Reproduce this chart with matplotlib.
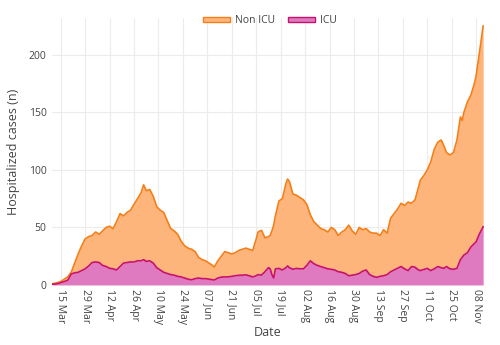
import numpy as np
import pandas as pd
import matplotlib.pyplot as plt
import matplotlib.dates as mdates
import matplotlib.patches as mpatches

plt.rcParams["font.family"] = ["Open Sans", "DejaVu Sans"]

# days after 15 Mar 2020, total hospitalized (top of orange area), ICU
day_offset = [-5, -2, 0, 2, 4, 6, 8, 10, 12, 14, 16, 18, 20, 22, 24, 26, 28, 30,
              32, 34, 36, 38, 40, 42, 44, 46, 47.5, 49, 51, 53, 55, 57, 59, 61,
              63, 65, 67, 69, 71, 73, 75, 77, 79, 81, 83, 85, 87, 88, 90, 92,
              94, 96, 98, 100, 102, 104, 106, 108, 110, 112, 113, 115, 117, 119,
              120, 121, 122, 123, 125, 127, 129, 130, 131, 133, 135, 137, 139,
              141, 143, 145, 147, 149, 151, 153, 155, 157, 159, 161, 163, 165,
              167, 169, 171, 173, 175, 177, 179, 181, 183, 185, 187, 189, 191,
              193, 195, 197, 199, 201, 203, 205, 206, 208, 210, 212, 214, 216,
              218, 219.5, 221, 223, 225, 227, 229, 230, 231, 233, 235, 237, 238,
              240, 242]
total = [1, 2, 3, 5, 7, 11, 19, 27, 34, 40, 42, 43, 46, 44, 47, 50, 51, 49,
         55, 62, 60, 63, 65, 70, 75, 80, 87, 82, 83, 77, 68, 65, 63, 56,
         49, 47, 44, 38, 34, 32, 31, 29, 24, 22, 21, 19, 17, 15.5, 21, 25,
         29, 28, 27, 28, 30, 31, 32, 31, 30, 40, 46, 47.5, 41, 42,
         43, 47, 52, 60, 73, 75, 88, 92, 90, 79, 78, 76, 74,
         70, 61, 55, 52, 49, 48, 46, 50, 48, 43, 46, 48, 52,
         47, 44, 50, 48, 49, 46, 45, 45, 43, 48, 45, 58, 62,
         66, 71, 69, 72, 71, 74, 85, 91, 95, 100, 107, 118, 124,
         126, 121, 115, 113, 115, 126, 146, 143, 150, 159, 165, 175, 182,
         203, 225]
icu = [0.5, 1, 2, 3, 4, 9.5, 10.5, 11, 12.5, 14, 16.5, 19.5, 20, 19.5, 17, 16, 14.5, 14,
       13, 16, 19, 19.5, 20, 20, 21, 21, 22, 20.5, 21, 19, 15, 13, 11, 10,
       9, 8.5, 7.5, 7, 6, 5, 4.5, 5.5, 6, 5.5, 5.5, 5, 4.5, 4.3, 6, 6.8,
       7, 7, 7.5, 8, 8.4, 8.5, 8.8, 8, 7, 8, 9, 8.5, 11.5, 15,
       14, 9, 6, 14, 14.4, 13, 15, 16.5, 15, 13.6, 14.4, 14, 14,
       17, 21, 18.5, 17, 16, 15, 14, 13.6, 13, 11.5, 11, 10, 8,
       8.5, 9, 10, 12, 13, 9, 7.5, 6.6, 7.5, 8, 9, 11.5, 13,
       14.4, 16, 14, 12.5, 16, 15.4, 13, 12.5, 13.5, 14.4, 12.5, 14, 16,
       15, 14.4, 16, 14, 13.6, 14.4, 22, 24, 26, 28, 33, 36, 37.5,
       44.7, 50.5]

start = pd.Timestamp("2020-03-15")
dates = start + pd.to_timedelta(np.array(day_offset) * 24, unit="h")
total = np.array(total)
icu = np.array(icu)

orange_line, orange_fill = "#f57f17", "#fdb57c"
pink_line, pink_fill = "#c8106e", "#e07ac0"

fig = plt.figure(figsize=(5, 3.45), dpi=100)
ax = fig.add_axes([0.104, 0.174, 0.864, 0.774])

# stacked areas: ICU at the bottom, Non ICU on top
ax.fill_between(dates, 0, icu, color=pink_fill, linewidth=0)
ax.fill_between(dates, icu, total, color=orange_fill, linewidth=0)
ax.plot(dates, total, color=orange_line, linewidth=1.2)
ax.plot(dates, icu, color=pink_line, linewidth=1.2)
ax.axhline(0, color="#9a9a9a", linewidth=0.8, zorder=1)

ax.set_ylim(0, 232)
ax.set_xlim(start + pd.Timedelta(days=-5), start + pd.Timedelta(days=242.5))
ax.set_yticks([0, 50, 100, 150, 200])

ticks = [start + pd.Timedelta(days=14 * i) for i in range(18)]
ax.set_xticks(ticks)
ax.xaxis.set_major_formatter(mdates.DateFormatter("%d %b"))
plt.setp(ax.get_xticklabels(), rotation=-90, ha="center", va="top")

ax.tick_params(axis="both", length=0, labelsize=7.5, colors="#444444")
ax.tick_params(axis="x", pad=3)
ax.tick_params(axis="y", pad=4)
ax.grid(True, color="#ececec", linewidth=0.8)
ax.set_axisbelow(True)
for s in ax.spines.values():
    s.set_visible(False)

ax.set_xlabel("Date", fontsize=9, color="#444444", labelpad=1)
ax.set_ylabel("Hospitalized cases (n)", fontsize=9, color="#444444", labelpad=6)

h_non = mpatches.Patch(facecolor=orange_fill, edgecolor=orange_line, linewidth=1, label="Non ICU")
h_icu = mpatches.Patch(facecolor=pink_fill, edgecolor=pink_line, linewidth=1, label="ICU")
fig.legend(handles=[h_non, h_icu], loc="center", bbox_to_anchor=(0.54, 0.94),
           ncol=2, frameon=False, fontsize=7.5, handlelength=2.6, handleheight=0.35,
           handletextpad=0.5, columnspacing=1.2, labelcolor="#444444")

fig.savefig("out.png", dpi=100)
